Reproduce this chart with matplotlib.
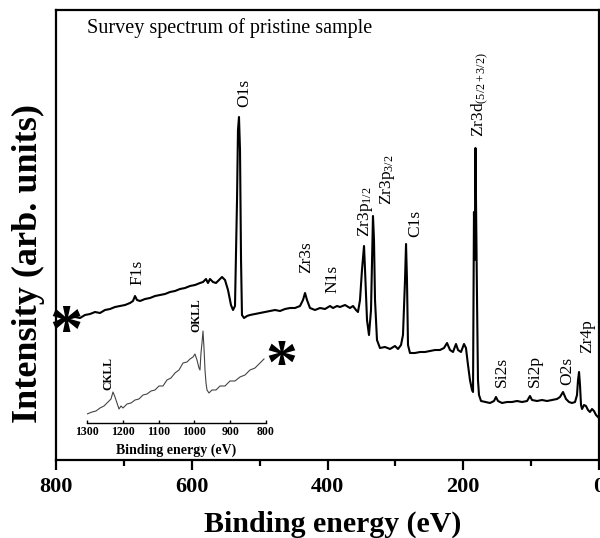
import matplotlib
matplotlib.use("Agg")
import matplotlib.pyplot as plt
import numpy as np

plt.rcParams['font.family'] = ['Liberation Serif', 'DejaVu Serif']
plt.rcParams['mathtext.fontset'] = 'custom'
plt.rcParams['mathtext.rm'] = 'Liberation Serif'
plt.rcParams['mathtext.it'] = 'Liberation Serif:italic'
plt.rcParams['mathtext.bf'] = 'Liberation Serif:bold'

# ---- main survey spectrum (binding energy eV, intensity arb. units) ----
be_main = [798.5, 791.2, 785.3, 779.4, 772.0, 764.6, 757.3, 749.9, 742.5, 735.2,
           727.8, 720.4, 713.1, 705.7, 698.3, 691.0, 686.6, 683.6, 680.7, 676.2,
           668.9, 661.5, 654.1, 646.8, 639.4, 632.0, 624.7, 617.3, 609.9, 602.6,
           595.2, 587.8, 583.4, 579.0, 576.1, 573.1, 568.7, 564.3, 559.9, 555.4,
           551.0, 546.6, 542.2, 539.2, 536.3, 533.3, 531.9, 530.4, 528.9, 527.4,
           526.0, 523.0, 518.6, 514.2, 506.8, 499.4, 492.1, 484.7, 477.3, 470.0,
           462.6, 455.2, 447.9, 440.5, 436.1, 433.1, 430.2, 425.8, 418.4, 411.0,
           403.7, 396.3, 391.9, 386.0, 381.6, 374.2, 366.9, 362.4, 358.0, 355.1,
           352.1, 349.2, 346.2, 344.7, 341.8, 338.9, 335.9, 334.4, 333.0, 331.5,
           330.0, 327.1, 322.7, 315.3, 307.9, 300.6, 296.1, 291.7, 288.8, 285.8,
           284.3, 282.9, 281.4, 278.5, 271.1, 263.7, 256.4, 249.0, 241.6, 234.3,
           228.4, 223.9, 219.5, 215.1, 210.7, 207.7, 203.3, 198.9, 196.0, 193.0,
           190.1, 187.1, 185.6, 184.2, 183.1, 182.0, 179.7, 178.3, 176.8, 173.8,
           167.5, 160.6, 154.7, 151.8, 148.8, 142.9, 135.5, 128.2, 120.8, 113.4,
           106.0, 101.7, 98.7, 91.3, 84.0, 76.6, 69.2, 61.9, 57.5, 53.0,
           48.6, 44.2, 39.8, 35.3, 32.4, 30.9, 29.4, 28.0, 26.5, 25.0,
           22.1, 19.2, 16.2, 13.3, 10.3, 7.4, 4.4, 1.5]
int_main = [138, 141, 139, 142, 143, 142, 145, 146, 148, 147,
            150, 151, 153, 154, 155, 157, 159, 164, 160, 159,
            161, 162, 164, 165, 166, 168, 169, 171, 172, 174,
            175, 177, 178, 181, 177, 181, 178, 177, 180, 183,
            180, 170, 155, 150, 154, 260, 330, 343, 310, 200,
            145, 142, 144, 145, 146, 147, 148, 149, 150, 149,
            151, 152, 152, 154, 160, 167, 160, 152, 150, 152,
            151, 154, 152, 154, 153, 155, 152, 154, 150, 148,
            160, 190, 214, 190, 140, 125, 150, 200, 244, 220,
            160, 120, 112, 113, 111, 114, 111, 115, 125, 180,
            216, 180, 115, 107, 107, 108, 108, 109, 110, 110,
            112, 117, 110, 108, 116, 110, 108, 116, 112, 95,
            80, 70, 68, 248, 200, 312, 160, 80, 65, 59,
            58, 57, 59, 63, 59, 57, 58, 58, 59, 58,
            59, 64, 60, 59, 60, 59, 60, 61, 63, 68,
            61, 58, 57, 58, 65, 80, 88, 75, 55, 51,
            55, 54, 50, 48, 51, 49, 45, 43]

# ---- inset: extended range with Auger lines ----
be_inset = [1300, 1286, 1274.9, 1263.7, 1252.5, 1241.3, 1233, 1227.4, 1221.8, 1216.2,
            1210.6, 1205, 1199.5, 1188.3, 1177.1, 1165.9, 1154.8, 1143.6, 1132.4, 1121.2,
            1110.1, 1098.9, 1087.7, 1076.6, 1065.4, 1054.2, 1043, 1031.9, 1020.7, 1012.3,
            1003.9, 998.4, 992.8, 987.2, 984.4, 981.6, 978.8, 976, 973.2, 970.4,
            967.6, 964.8, 959.3, 950.9, 939.7, 928.5, 914.6, 900.6, 886.6, 872.7,
            858.7, 844.7, 830.8, 816.8, 805.6]
int_inset = [9, 11, 12, 15, 17, 21, 24, 31, 26, 20,
             14, 17, 15, 19, 20, 23, 24, 28, 29, 32,
             33, 37, 37, 43, 45, 50, 53, 60, 61, 64,
             66, 69, 63, 55, 53, 70, 80, 92, 75, 53,
             40, 33, 30, 33, 33, 37, 37, 42, 42, 46,
             48, 53, 55, 60, 64]

# ---- peak labels ----
lab_text = ['O1s', 'F1s', 'Zr3s', 'N1s', r'Zr3p$_{\rm 1/2}$', r'Zr3p$_{\rm 3/2}$',
            'C1s', r'Zr3d$_{\rm (5/2+3/2)}$', 'Si2s', 'Si2p', 'O2s', 'Zr4p']
lab_be = [523, 680.7, 431.7, 393.4, 344.7, 310.9, 271.1, 175.3, 142.9, 94.3, 47.2, 17.7]
lab_int = [353, 175, 187, 167, 223, 255, 223, 323, 73, 73, 75, 107]

inset_lab_text = ['CKLL', 'OKLL']
inset_lab_be = [1241, 995.6]
inset_lab_int = [33, 91]

W, H = 600, 538
fig = plt.figure(figsize=(6.0, 5.38), dpi=100)
ax = fig.add_axes([56 / W, 1 - 460 / H, 543 / W, 450 / H])
ax.plot(be_main, int_main, color='black', lw=1.5)
ax.set_xlim(800, 0)
ax.set_ylim(0, 450)
ax.set_xticks([800, 600, 400, 200, 0])
ax.set_xticks([700, 500, 300, 100], minor=True)
ax.set_yticks([])
for s in ax.spines.values():
    s.set_linewidth(1.6)
ax.tick_params(axis='x', which='major', direction='out', length=7, width=1.6, pad=5)
ax.tick_params(axis='x', which='minor', direction='out', length=4, width=1.6)
for t in ax.get_xticklabels():
    t.set_fontsize(16)
    t.set_fontweight('bold')

for txt, x, y in zip(lab_text, lab_be, lab_int):
    ax.text(x, y, txt, rotation=90, ha='center', va='bottom', fontsize=12.5)

fig.text(87 / W, 1 - 28 / H, 'Survey spectrum of pristine sample', ha='left', va='center',
         fontsize=14.5)
fig.text(28 / W, 1 - 263 / H, 'Intensity (arb. units)', rotation=90, ha='center', va='center',
         fontsize=26, fontweight='bold')
fig.text(333 / W, 1 - 524 / H, 'Binding energy (eV)', ha='center', va='center',
         fontsize=21.5, fontweight='bold')

# inset
axi = fig.add_axes([87 / W, 1 - 423 / H, 179 / W, 100 / H])
axi.patch.set_alpha(0)
axi.plot(be_inset, int_inset, color='#444444', lw=0.8)
axi.set_xlim(1300, 800)
axi.set_ylim(0, 100)
axi.set_yticks([])
for k in ['left', 'right', 'top']:
    axi.spines[k].set_visible(False)
axi.spines['bottom'].set_linewidth(1.0)
axi.set_xticks([1300, 1200, 1100, 1000, 900, 800])
axi.tick_params(axis='x', direction='in', length=2.5, width=1.0, pad=2)
for t in axi.get_xticklabels():
    t.set_fontsize(8.5)
    t.set_fontweight('bold')
axi.set_xlabel('Binding energy (eV)', fontsize=10, fontweight='bold', labelpad=4)
for txt, x, y in zip(inset_lab_text, inset_lab_be, inset_lab_int):
    axi.text(x, y, txt, rotation=90, ha='center', va='bottom', fontsize=8.5, fontweight='bold')

# break asterisks
fig.text(66 / W, 1 - 333 / H, '*', ha='center', va='center', fontsize=48, fontweight='bold')
fig.text(281 / W, 1 - 368 / H, '*', ha='center', va='center', fontsize=46, fontweight='bold')

fig.savefig('out.png', dpi=100)
